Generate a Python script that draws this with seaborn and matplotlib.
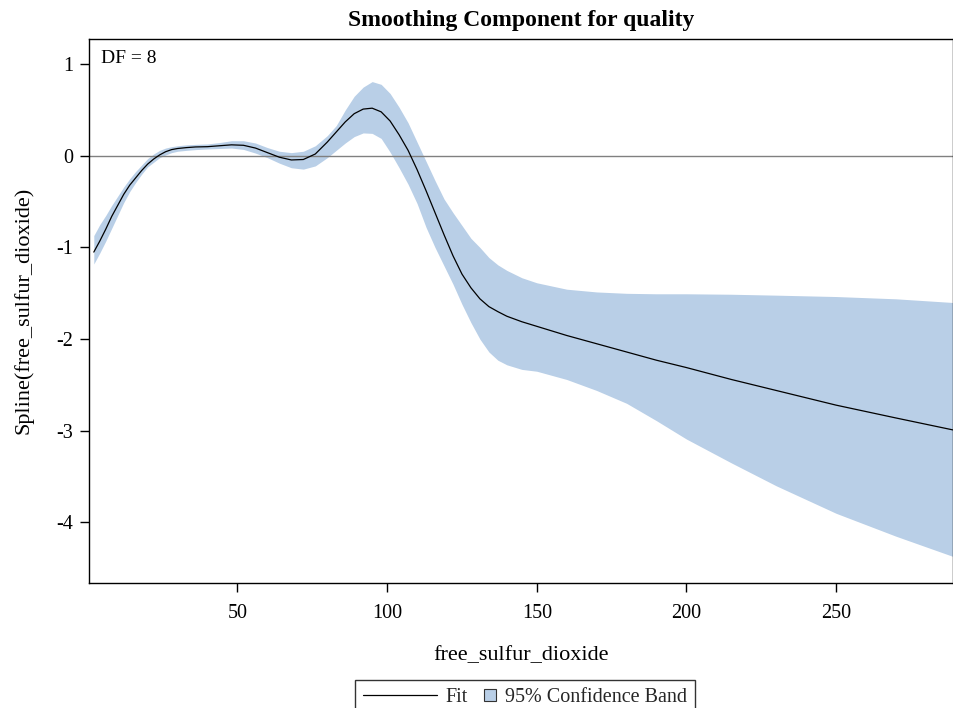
import numpy as np
import pandas as pd
import seaborn as sns
import matplotlib
matplotlib.use("Agg")
import matplotlib.pyplot as plt
from matplotlib.lines import Line2D
from matplotlib.patches import Patch, Rectangle
from matplotlib.legend_handler import HandlerPatch

# ---- data ----
x_vals = [2, 4, 6, 8, 10, 12, 14, 16, 18, 20, 22, 24, 26, 28, 30, 33, 36, 40, 44, 48,
          52, 56, 60, 64, 68, 72, 76, 80, 83, 86, 89, 92, 95, 98, 101, 104, 107, 110,
          113, 116, 119, 122, 125, 128, 131, 134, 137, 140, 145, 150, 160, 170, 180,
          190, 200, 215, 230, 250, 270, 289]
fit_vals = [-1.05, -0.93, -0.80, -0.66, -0.54, -0.42, -0.32, -0.24, -0.16, -0.09,
            -0.035, 0.01, 0.045, 0.068, 0.08, 0.09, 0.097, 0.10, 0.11, 0.12,
            0.115, 0.085, 0.035, -0.015, -0.045, -0.04, 0.02, 0.15, 0.26, 0.37,
            0.46, 0.51, 0.52, 0.48, 0.38, 0.23, 0.06, -0.15,
            -0.38, -0.62, -0.86, -1.09, -1.29, -1.44, -1.56, -1.645, -1.70, -1.75,
            -1.81, -1.86, -1.96, -2.05, -2.14,
            -2.23, -2.31, -2.44, -2.56, -2.72, -2.86, -2.99]
upper_vals = [-0.87, -0.75, -0.65, -0.54, -0.44, -0.34, -0.25, -0.17, -0.10, -0.03,
              0.02, 0.06, 0.085, 0.10, 0.11, 0.12, 0.125, 0.13, 0.145, 0.165,
              0.165, 0.14, 0.09, 0.05, 0.035, 0.05, 0.11, 0.22, 0.33, 0.50,
              0.65, 0.75, 0.81, 0.78, 0.68, 0.53, 0.36, 0.15,
              -0.06, -0.27, -0.47, -0.62, -0.76, -0.90, -1.00, -1.11, -1.19, -1.25,
              -1.33, -1.385, -1.455, -1.485, -1.50,
              -1.505, -1.505, -1.51, -1.52, -1.535, -1.56, -1.60]
lower_vals = [-1.18, -1.06, -0.93, -0.79, -0.65, -0.51, -0.39, -0.29, -0.20, -0.12,
              -0.07, -0.02, 0.01, 0.035, 0.05, 0.06, 0.068, 0.075, 0.08, 0.085,
              0.07, 0.03, -0.02, -0.08, -0.13, -0.145, -0.11, -0.02, 0.06, 0.14,
              0.21, 0.25, 0.245, 0.19, 0.04, -0.13, -0.31, -0.52,
              -0.78, -1.00, -1.20, -1.40, -1.62, -1.82, -2.00, -2.14, -2.23, -2.28,
              -2.33, -2.35, -2.44, -2.56, -2.70,
              -2.89, -3.09, -3.35, -3.60, -3.90, -4.15, -4.37]
x_ticks = [50, 100, 150, 200, 250]
y_ticks = [1, 0, -1, -2, -3, -4]

df = pd.DataFrame({"free_sulfur_dioxide": x_vals, "fit": fit_vals,
                   "upper": upper_vals, "lower": lower_vals})

sns.set_theme(style="white")
plt.rcParams["font.family"] = ["Liberation Serif", "DejaVu Serif"]

band_color = "#B9CFE7"

fig = plt.figure(figsize=(9.54, 7.08), dpi=100)
ax = fig.add_axes([0.0933, 0.1766, 0.9055, 0.769])

ax.fill_between(df["free_sulfur_dioxide"], df["lower"], df["upper"],
                color=band_color, linewidth=0, zorder=1)
ax.axhline(0, color="#808080", lw=1.0, zorder=2)
sns.lineplot(data=df, x="free_sulfur_dioxide", y="fit", ax=ax, color="black",
             lw=0.9, zorder=3, legend=False)

ax.set_xlim(0.4, 289)
ax.set_ylim(-4.66, 1.28)
ax.set_xticks(x_ticks)
ax.set_yticks(y_ticks)
ax.set_xticklabels([str(t) for t in x_ticks])
ax.set_yticklabels([str(t) for t in y_ticks])
ax.tick_params(axis="both", which="both", direction="out", length=6.5, width=1,
               color="black", labelsize=14.5, labelcolor="black",
               bottom=True, left=True)
ax.tick_params(axis="x", pad=9)
ax.tick_params(axis="y", pad=5)

for side in ["left", "bottom", "top", "right"]:
    ax.spines[side].set_visible(True)
    ax.spines[side].set_color("black")
    ax.spines[side].set_linewidth(1.0)

ax.set_xlabel("free_sulfur_dioxide", fontsize=16, labelpad=16, color="black")
ax.set_ylabel("Spline(free_sulfur_dioxide)", fontsize=16, labelpad=16, color="black")
ax.set_title("Smoothing Component for quality", fontsize=17, fontweight="bold",
             pad=9, color="black")

ax.text(0.014, 0.979, "DF = 8", transform=ax.transAxes, fontsize=14,
        va="top", ha="left", color="black")

# ---- legend ----
SQ = 8.6  # square side in points


def square_patch(legend, orig_handle, xdescent, ydescent, width, height, fontsize):
    return Rectangle((-xdescent + (width - SQ) / 2, -ydescent + (height - SQ) / 2),
                     SQ, SQ)


handles = [Line2D([0], [0], color="black", lw=0.9),
           Patch(facecolor=band_color, edgecolor="#333333", linewidth=0.8)]
leg_fs = 14.5
leg = fig.legend(handles, ["Fit", "95% Confidence Band"], ncol=2,
                 loc="center", bbox_to_anchor=(0.5503, 0.0142), frameon=True,
                 fancybox=False, edgecolor="black", fontsize=leg_fs,
                 handlelength=SQ / leg_fs, handleheight=0.7, columnspacing=0.8,
                 handletextpad=0.45, borderpad=0.4, borderaxespad=0,
                 handler_map={Patch: HandlerPatch(patch_func=square_patch)})
leg.get_frame().set_linewidth(1.0)

# widen the line handle box so the Fit line is long, like the reference
LINE_W = 53.0  # points
try:
    col0 = leg._legend_handle_box.get_children()[0]
    item0 = col0.get_children()[0]
    da0 = item0.get_children()[0]
    da0.width = LINE_W
    ln = leg.legend_handles[0]
    y0 = float(np.asarray(ln.get_ydata())[0])
    ln.set_data([0, LINE_W], [y0, y0])
except Exception:
    pass

fig.savefig("out.png", dpi=100, facecolor="white")
